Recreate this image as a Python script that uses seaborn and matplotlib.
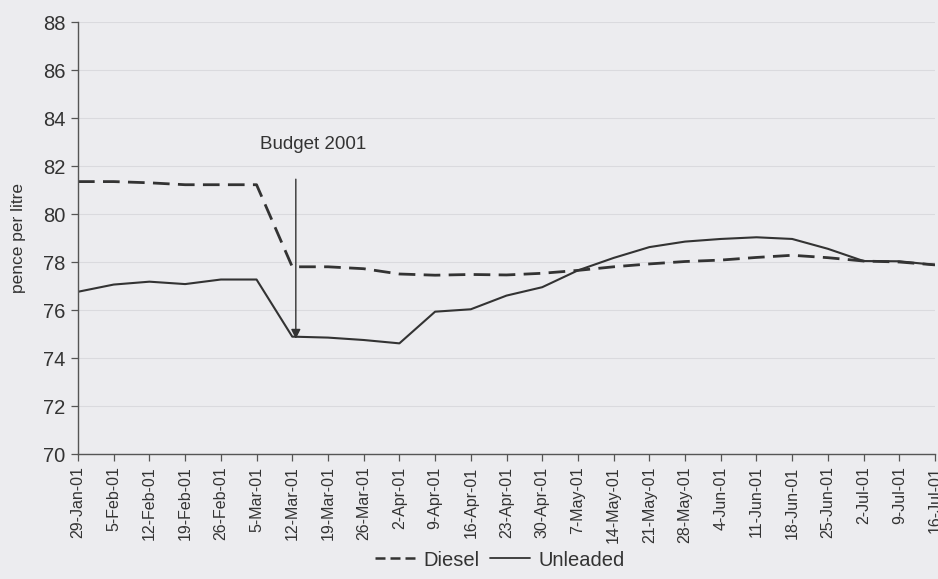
import matplotlib
matplotlib.use("Agg")
import matplotlib.pyplot as plt
import seaborn as sns
import pandas as pd
from matplotlib.lines import Line2D

weeks = ["29-Jan-01", "5-Feb-01", "12-Feb-01", "19-Feb-01", "26-Feb-01", "5-Mar-01",
         "12-Mar-01", "19-Mar-01", "26-Mar-01", "2-Apr-01", "9-Apr-01", "16-Apr-01",
         "23-Apr-01", "30-Apr-01", "7-May-01", "14-May-01", "21-May-01", "28-May-01",
         "4-Jun-01", "11-Jun-01", "18-Jun-01", "25-Jun-01", "2-Jul-01", "9-Jul-01",
         "16-Jul-01"]
diesel = [81.35, 81.35, 81.3, 81.22, 81.22, 81.22, 77.8, 77.8, 77.72, 77.5, 77.45,
          77.48, 77.46, 77.53, 77.65, 77.8, 77.92, 78.02, 78.08, 78.19, 78.28, 78.18,
          78.04, 78.0, 77.88]
unleaded = [76.76, 77.06, 77.18, 77.08, 77.27, 77.27, 74.89, 74.85, 74.75, 74.61,
            75.93, 76.03, 76.6, 76.95, 77.65, 78.17, 78.62, 78.85, 78.96, 79.03,
            78.96, 78.55, 78.04, 78.03, 77.88]
series_names = ["Diesel", "Unleaded"]
y_ticks = [70, 72, 74, 76, 78, 80, 82, 84, 86, 88]
budget_label = "Budget 2001"

bg = "#ececef"
ink = "#333333"

sns.set_theme(style="white")
plt.rcParams["font.family"] = ["Liberation Sans", "DejaVu Sans"]

df = pd.DataFrame({
    "week": list(range(len(weeks))) * 2,
    "price": diesel + unleaded,
    "fuel": [series_names[0]] * len(weeks) + [series_names[1]] * len(weeks),
})

fig = plt.figure(figsize=(9.38, 5.79), dpi=100, facecolor=bg)
ax = fig.add_axes([78 / 938, 1 - 454 / 579, (935 - 78) / 938, (454 - 22) / 579])
ax.set_facecolor(bg)

sns.lineplot(data=df, x="week", y="price", hue="fuel", style="fuel",
             palette={series_names[0]: ink, series_names[1]: ink},
             dashes={series_names[0]: (6, 3), series_names[1]: ""},
             linewidth=1.8, legend=False, ax=ax)
for ln, lw in zip(ax.lines, [2.0, 1.5]):
    ln.set_linewidth(lw)

ax.set_xlim(0, len(weeks) - 1)
ax.set_ylim(70, 88)
ax.set_xticks(range(len(weeks)))
ax.set_xticklabels(weeks, rotation=90, fontsize=11.5, color=ink)
ax.set_yticks(y_ticks)
ax.set_yticklabels([str(v) for v in y_ticks], fontsize=14.5, color=ink)
ax.set_xlabel("")
ax.set_ylabel("pence per litre", fontsize=12.5, color=ink, labelpad=12)

ax.grid(axis="y", color="#dadade", linewidth=0.8)
ax.grid(axis="x", visible=False)
for side in ["top", "right"]:
    ax.spines[side].set_visible(False)
for side in ["left", "bottom"]:
    ax.spines[side].set_color("#555555")
    ax.spines[side].set_linewidth(1.0)
ax.tick_params(axis="both", which="major", direction="out", length=5, width=0.9,
               color="#555555", bottom=True, left=True, pad=4)

ax.annotate("", xy=(6.1, 74.8), xytext=(6.1, 81.45),
            arrowprops=dict(arrowstyle="-|>", color=ink, lw=1.0,
                            mutation_scale=14, shrinkA=0, shrinkB=0))
ax.text(6.58, 82.9, budget_label, ha="center", va="center", fontsize=13.5, color=ink)

handles = [Line2D([], [], color=ink, lw=1.8, dashes=(4, 2)),
           Line2D([], [], color=ink, lw=1.3)]
fig.legend(handles, series_names, loc="center", bbox_to_anchor=(500 / 938, 1 - 560 / 579),
           ncol=2, frameon=False, fontsize=14.5, handlelength=2.0, handletextpad=0.4,
           columnspacing=0.5, labelcolor=ink)

fig.savefig("out.png", dpi=100, facecolor=bg)
